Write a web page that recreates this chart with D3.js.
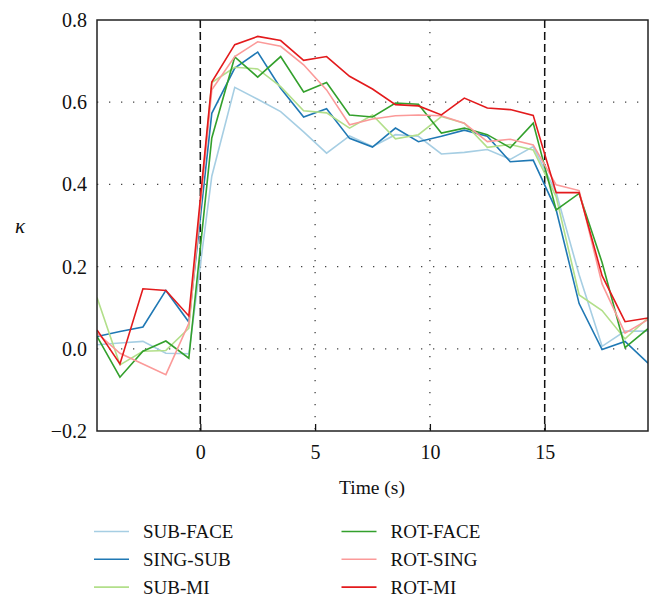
<!DOCTYPE html>
<html>
<head>
<meta charset="utf-8">
<script src="https://cdn.jsdelivr.net/npm/d3@7"></script>
<style>
  html, body { margin: 0; padding: 0; background: #fff; }
  svg { display: block; }
  text { font-family: "Liberation Serif", "Times New Roman", serif; fill: #111; }
</style>
</head>
<body>
<svg id="chart" width="662" height="607"></svg>
<script>
// ---- data ----
const times = [-4.5,-3.5,-2.5,-1.5,-0.5,0.5,1.5,2.5,3.5,4.5,5.5,6.5,7.5,8.5,9.5,10.5,11.5,12.5,13.5,14.5,15.5,16.5,17.5,18.5,19.5];
const seriesNames = ["SUB-FACE","SING-SUB","SUB-MI","ROT-FACE","ROT-SING","ROT-MI"];
const seriesColors = ["#a6cee3","#1f78b4","#b2df8a","#33a02c","#fb9a99","#e31a1c"];
const subFace = [0.010,0.014,0.018,-0.011,-0.012,0.420,0.636,0.607,0.577,0.528,0.476,0.518,0.492,0.521,0.517,0.474,0.478,0.485,0.461,0.492,0.380,0.180,0.006,0.043,0.043];
const singSub = [0.030,0.042,0.053,0.142,0.065,0.573,0.683,0.722,0.634,0.564,0.584,0.512,0.491,0.537,0.504,0.517,0.532,0.517,0.455,0.459,0.338,0.110,-0.002,0.018,-0.035];
const subMi   = [0.125,-0.039,-0.006,-0.004,0.050,0.648,0.685,0.681,0.638,0.579,0.574,0.537,0.569,0.511,0.521,0.565,0.549,0.490,0.497,0.484,0.370,0.131,0.093,0.024,0.075];
const rotFace = [0.030,-0.069,-0.006,0.019,-0.023,0.513,0.710,0.661,0.711,0.625,0.648,0.569,0.564,0.598,0.595,0.525,0.537,0.521,0.489,0.549,0.338,0.378,0.210,0.003,0.049];
const rotSing = [0.038,-0.011,-0.037,-0.063,0.062,0.630,0.711,0.747,0.736,0.691,0.630,0.545,0.559,0.567,0.569,0.567,0.549,0.504,0.510,0.496,0.399,0.385,0.158,0.038,0.071];
const rotMi   = [0.046,-0.037,0.146,0.142,0.080,0.649,0.740,0.760,0.750,0.702,0.711,0.663,0.632,0.594,0.591,0.569,0.610,0.586,0.582,0.568,0.380,0.380,0.178,0.066,0.075];
const seriesValues = [subFace, singSub, subMi, rotFace, rotSing, rotMi];
const xTicks = [0,5,10,15];
const yTicks = [-0.2,0.0,0.2,0.4,0.6,0.8];
const yGrid = [0.0,0.2,0.4,0.6];
const xGrid = [0,5,10,15];
const markers = [0,15];

// ---- layout ----
const svg = d3.select("#chart");
const L = 97, R = 648, T = 20, B = 431;
const x = d3.scaleLinear().domain([-4.5, 19.5]).range([L, R]);
const y = d3.scaleLinear().domain([-0.2, 0.8]).range([B, T]);

svg.append("defs").append("clipPath").attr("id","plotclip")
  .append("rect").attr("x", L).attr("y", T).attr("width", R - L).attr("height", B - T);

// grid
const grid = svg.append("g").attr("stroke", "#444").attr("stroke-width", 1.3)
  .attr("stroke-dasharray", "1.3,10.7");
grid.selectAll("line.h").data(yGrid).join("line")
  .attr("x1", L).attr("x2", R).attr("y1", d => y(d)).attr("y2", d => y(d));
grid.selectAll("line.v").data(xGrid).join("line")
  .attr("x1", d => x(d)).attr("x2", d => x(d)).attr("y1", T).attr("y2", B);

// dashed markers
svg.append("g").selectAll("line").data(markers).join("line")
  .attr("x1", d => x(d)).attr("x2", d => x(d)).attr("y1", T).attr("y2", B)
  .attr("stroke", "#111").attr("stroke-width", 1.5).attr("stroke-dasharray", "8,4");

// series lines
const lineGen = d3.line().x((d, i) => x(times[i])).y(d => y(d));
svg.append("g").attr("clip-path", "url(#plotclip)")
  .selectAll("path").data(seriesValues).join("path")
  .attr("d", d => lineGen(d))
  .attr("fill", "none")
  .attr("stroke", (d, i) => seriesColors[i])
  .attr("stroke-width", 1.6)
  .attr("stroke-linejoin", "miter");

// axes
const xAxis = d3.axisBottom(x).tickValues(xTicks).tickSizeInner(-7).tickSizeOuter(0).tickPadding(14)
  .tickFormat(d3.format("d"));
const gx = svg.append("g").attr("transform", `translate(0,${B})`).call(xAxis);
gx.select(".domain").remove();
gx.selectAll(".tick line").attr("stroke", "#111").attr("stroke-width", 1.3);
gx.selectAll("text").attr("font-size", 20).attr("font-family", "Liberation Serif").attr("fill", "#111");

const yAxis = d3.axisLeft(y).tickValues(yTicks).tickSizeInner(0).tickSizeOuter(0).tickPadding(10)
  .tickFormat(d => d3.format(".1f")(d).replace("-", "\u2212"));
const gy = svg.append("g").attr("transform", `translate(${L},0)`).call(yAxis);
gy.select(".domain").remove();
gy.selectAll("text").attr("font-size", 20).attr("font-family", "Liberation Serif").attr("fill", "#111");

// frame
svg.append("rect").attr("x", L).attr("y", T).attr("width", R - L).attr("height", B - T)
  .attr("fill", "none").attr("stroke", "#222").attr("stroke-width", 1.5);

// axis labels
svg.append("text").attr("x", 372).attr("y", 494).attr("text-anchor", "middle")
  .attr("font-size", 19.5).text("Time (s)");
svg.append("text").attr("x", 20).attr("y", 233).attr("text-anchor", "middle")
  .attr("font-size", 21).attr("font-style", "italic").text("\u03ba");

// legend
const legend = svg.append("g");
const lg = legend.selectAll("g").data(seriesNames).join("g")
  .attr("transform", (d, i) => `translate(${i < 3 ? 94 : 341.5},${531.5 + (i % 3) * 27.8})`);
lg.append("line").attr("x1", 0).attr("x2", 35).attr("y1", 0).attr("y2", 0)
  .attr("stroke", (d, i) => seriesColors[i]).attr("stroke-width", 1.6);
lg.append("text").attr("x", 49).attr("y", 6.7).attr("font-size", 19).text(d => d);

// bottom crop as in reference
svg.append("rect").attr("x", 0).attr("y", 596).attr("width", 662).attr("height", 11).attr("fill", "#fff");
</script>
</body>
</html>
